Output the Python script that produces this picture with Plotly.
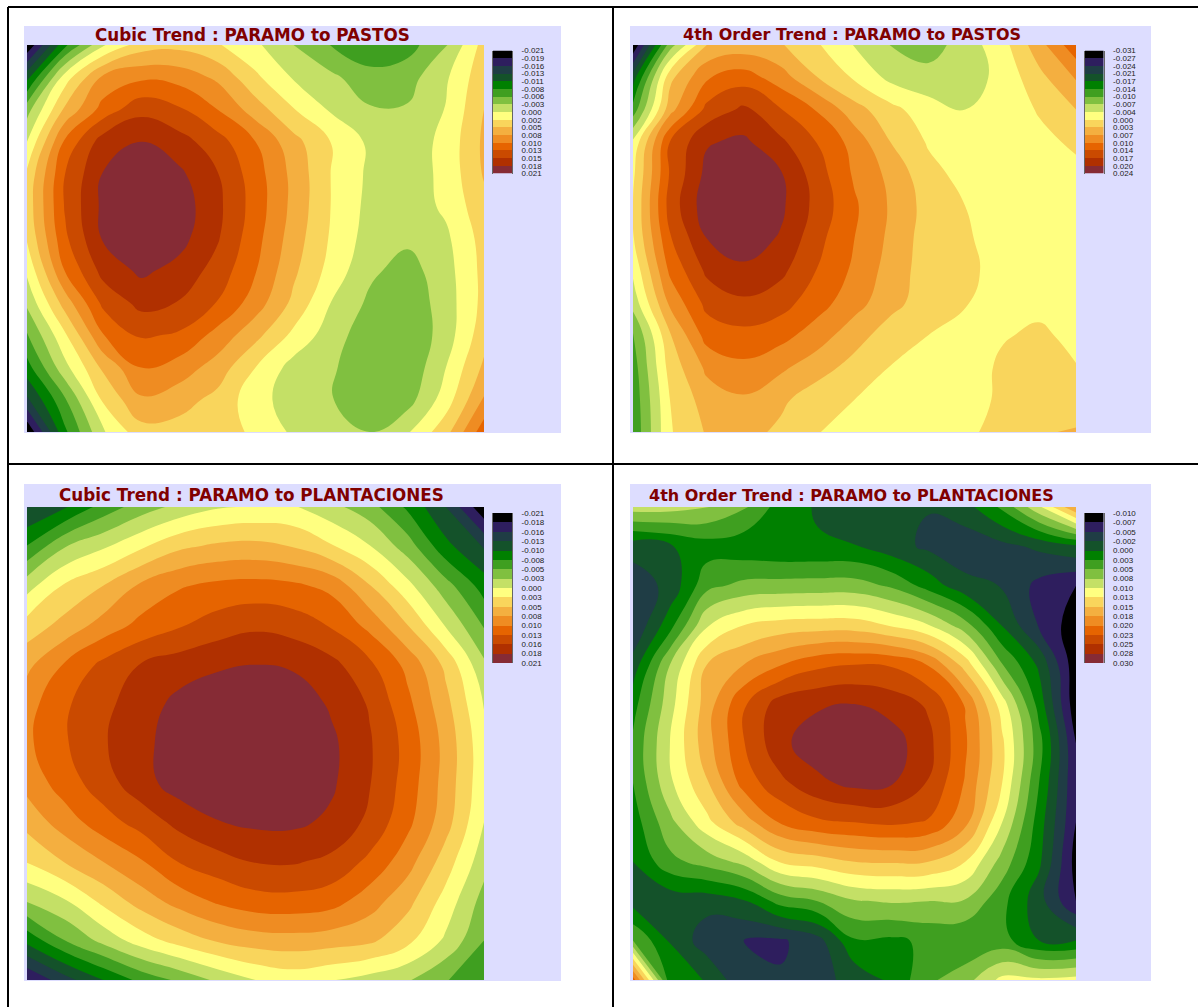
import plotly.graph_objects as go

W, H = 1198, 1007

band_colors = ["#000000", "#2E1E5E", "#1F3D45", "#14522A", "#008000", "#3F9F20", "#80C040", "#C4E066",
               "#FFFF80", "#F9D55C", "#F4AF40", "#EF8C22", "#E66400", "#CA4A00", "#B03000", "#862B35"]

titles = ["Cubic Trend : PARAMO to PASTOS", "4th Order Trend : PARAMO to PASTOS",
          "Cubic Trend : PARAMO to PLANTACIONES", "4th Order Trend : PARAMO to PLANTACIONES"]

labels_a = ["-0.021", "-0.019", "-0.016", "-0.013", "-0.011", "-0.008", "-0.006", "-0.003", "0.000",
            "0.002", "0.005", "0.008", "0.010", "0.013", "0.015", "0.018", "0.021"]
labels_b = ["-0.031", "-0.027", "-0.024", "-0.021", "-0.017", "-0.014", "-0.010", "-0.007", "-0.004",
            "0.000", "0.003", "0.007", "0.010", "0.014", "0.017", "0.020", "0.024"]
labels_c = ["-0.021", "-0.018", "-0.016", "-0.013", "-0.010", "-0.008", "-0.005", "-0.003", "0.000",
            "0.003", "0.005", "0.008", "0.010", "0.013", "0.016", "0.018", "0.021"]
labels_d = ["-0.010", "-0.007", "-0.005", "-0.002", "0.000", "0.003", "0.005", "0.008", "0.010",
            "0.013", "0.015", "0.018", "0.020", "0.023", "0.025", "0.028", "0.030"]

# Values, in legend-class position (0 = top of legend, 16 = bottom)
cubic_pastos = [
    [0.1, 4.8, 7.9, 9.5, 9.7, 9.1, 8.2, 7.0, 5.95, 5.2, 5.6, 6.9, 9.4],
    [3.7, 8.5, 11.2, 11.8, 11.6, 10.8, 9.2, 7.9, 7.2, 6.4, 6.6, 7.85, 9.7],
    [6.6, 10.2, 12.4, 13.7, 13.15, 12.0, 10.5, 9.05, 7.85, 7.1, 7.1, 8.05, 10.0],
    [8.0, 12.2, 14.5, 15.0, 14.4, 13.45, 12.0, 10.35, 8.95, 7.8, 7.4, 8.3, 10.2],
    [9.2, 13.0, 15.05, 15.6, 15.2, 14.05, 12.45, 10.7, 8.95, 7.8, 7.4, 8.3, 10.1],
    [9.4, 13.1, 15.25, 15.9, 15.55, 14.25, 12.55, 10.7, 8.95, 7.7, 7.4, 8.2, 9.7],
    [9.1, 12.8, 15.1, 15.7, 15.35, 14.1, 12.35, 10.5, 8.85, 7.55, 7.2, 7.8, 9.4],
    [8.2, 12.05, 14.35, 15.2, 14.65, 13.6, 12.05, 10.2, 8.6, 7.2, 6.6, 7.6, 9.3],
    [7.2, 10.45, 13.25, 14.3, 13.95, 12.95, 11.5, 9.75, 7.95, 6.8, 6.3, 7.5, 9.3],
    [5.9, 8.85, 11.95, 13.15, 12.85, 11.65, 10.3, 8.75, 7.45, 6.4, 6.1, 7.5, 9.6],
    [4.6, 7.7, 10.2, 12.0, 11.55, 10.55, 9.0, 7.6, 7.15, 6.2, 6.2, 8.0, 10.2],
    [2.8, 5.9, 9.15, 10.85, 10.4, 9.7, 8.4, 7.5, 7.05, 6.2, 6.6, 8.5, 11.1],
    [0.1, 4.8, 7.9, 9.6, 9.6, 9.25, 8.9, 7.8, 7.3, 7.0, 7.9, 9.65, 12.6],
]
quartic_pastos = [
    [0.1, 6.5, 10.0, 10.4, 10.1, 9.1, 7.95, 6.95, 6.5, 7.5, 8.6, 10.6, 12.7],
    [3.5, 9.7, 11.9, 12.5, 11.45, 10.0, 8.85, 7.7, 7.4, 7.5, 8.3, 9.7, 11.1],
    [5.4, 10.6, 13.3, 14.2, 13.05, 11.9, 10.4, 9.3, 8.4, 8.0, 8.3, 9.1, 10.0],
    [8.2, 13.0, 14.9, 15.2, 14.2, 12.95, 11.6, 9.95, 8.9, 8.2, 8.4, 8.7, 9.2],
    [8.8, 13.1, 15.3, 15.7, 15.1, 13.45, 11.85, 10.7, 9.3, 8.7, 8.4, 8.6, 8.7],
    [9.0, 13.4, 15.6, 16.0, 15.2, 13.65, 12.15, 10.85, 9.6, 9.0, 8.4, 8.5, 8.5],
    [8.9, 12.9, 15.0, 15.5, 14.9, 13.3, 12.0, 10.75, 9.5, 9.15, 8.5, 8.4, 8.3],
    [8.2, 12.2, 14.2, 14.8, 14.25, 12.95, 11.8, 10.55, 9.5, 9.2, 8.7, 8.5, 8.2],
    [7.4, 11.2, 13.3, 13.8, 13.4, 12.4, 11.4, 10.3, 9.5, 9.05, 8.7, 8.7, 8.3],
    [5.9, 9.9, 12.4, 12.7, 12.35, 11.5, 10.4, 9.5, 9.0, 8.6, 8.9, 9.2, 8.7],
    [5.5, 9.4, 11.2, 11.75, 11.2, 10.4, 9.65, 8.95, 8.5, 8.4, 9.2, 9.7, 9.05],
    [5.3, 9.0, 10.5, 10.85, 10.2, 9.45, 9.0, 8.55, 8.3, 8.4, 9.25, 9.7, 9.4],
    [5.2, 8.9, 10.1, 10.35, 9.8, 9.05, 8.5, 8.2, 8.1, 8.7, 9.5, 9.9, 10.1],
]
cubic_plantaciones = [
    [2.9, 3.9, 5.4, 6.5, 7.3, 7.9, 8.1, 8.1, 7.3, 6.4, 4.8, 3.0, 0.2],
    [5.05, 6.95, 7.85, 8.85, 9.8, 10.2, 10.3, 9.95, 9.1, 8.05, 6.5, 4.3, 2.9],
    [7.6, 9.15, 10.0, 11.2, 11.9, 12.25, 12.35, 12.2, 11.7, 10.05, 8.3, 6.4, 4.55],
    [9.4, 10.35, 11.4, 12.3, 12.9, 13.45, 13.8, 13.55, 12.9, 11.7, 10.0, 7.9, 5.9],
    [10.75, 12.1, 13.25, 14.05, 14.5, 14.85, 15.0, 14.85, 14.3, 13.2, 11.7, 9.75, 7.2],
    [11.6, 12.85, 13.75, 14.5, 15.3, 15.65, 15.75, 15.65, 14.85, 13.9, 12.25, 10.3, 7.95],
    [11.8, 12.9, 13.9, 14.7, 15.55, 15.9, 16.0, 15.85, 15.2, 14.1, 12.65, 10.65, 8.3],
    [11.35, 12.5, 13.55, 14.6, 15.5, 15.85, 16.0, 15.85, 15.15, 14.05, 12.55, 10.6, 8.3],
    [10.35, 11.5, 12.55, 13.4, 14.3, 14.95, 15.2, 15.2, 14.8, 13.75, 12.25, 10.4, 8.0],
    [9.05, 10.05, 11.0, 11.9, 13.05, 13.6, 14.05, 14.1, 13.75, 12.75, 11.4, 9.5, 7.4],
    [7.05, 7.9, 9.25, 10.45, 11.4, 12.15, 12.6, 12.65, 12.4, 11.45, 10.3, 8.6, 6.6],
    [4.3, 6.0, 7.3, 8.5, 9.4, 10.1, 10.5, 10.6, 10.45, 10.2, 9.25, 7.8, 6.0],
    [1.0, 2.6, 4.0, 5.3, 6.2, 7.2, 8.0, 8.4, 8.05, 7.6, 7.1, 6.05, 5.4],
]
quartic_plantaciones = [
    [7.5, 7.4, 7.05, 6.2, 4.5, 3.9, 3.4, 3.1, 3.05, 3.6, 5.2, 7.8, 11.0],
    [3.4, 3.9, 4.5, 4.3, 4.1, 4.1, 4.05, 3.4, 2.8, 2.4, 2.7, 3.2, 3.8],
    [2.4, 3.3, 5.7, 6.3, 6.4, 6.45, 6.45, 5.85, 4.6, 3.3, 2.95, 1.7, 1.0],
    [2.1, 4.6, 7.9, 9.0, 9.4, 9.5, 9.5, 8.9, 8.05, 6.4, 3.95, 1.9, 0.4],
    [3.4, 7.0, 10.0, 11.0, 11.95, 12.75, 13.0, 12.9, 11.95, 9.6, 6.05, 3.8, 0.3],
    [4.6, 7.6, 10.5, 12.85, 14.5, 14.85, 15.0, 14.6, 13.85, 11.9, 8.5, 4.6, 0.3],
    [5.2, 8.0, 10.6, 12.95, 14.75, 15.6, 15.9, 15.5, 14.3, 12.15, 9.2, 5.4, 1.0],
    [5.0, 7.8, 9.9, 12.4, 13.75, 14.75, 15.3, 15.1, 13.95, 11.9, 9.0, 5.0, 1.1],
    [4.5, 6.7, 8.7, 10.5, 12.1, 12.8, 13.0, 13.2, 12.9, 11.3, 8.0, 4.5, 1.0],
    [4.0, 5.7, 6.4, 7.3, 9.1, 9.5, 10.0, 10.1, 10.0, 9.0, 6.6, 4.2, 0.6],
    [3.6, 3.3, 3.4, 3.9, 5.4, 6.0, 6.9, 7.1, 7.0, 6.9, 5.3, 3.4, 1.0],
    [6.0, 3.95, 2.4, 2.0, 1.85, 2.6, 4.9, 4.8, 5.2, 5.1, 5.4, 4.0, 4.0],
    [12.5, 4.4, 3.95, 2.2, 2.1, 2.7, 3.3, 4.2, 5.8, 6.6, 8.3, 8.2, 8.4],
]

maps = [cubic_pastos, quartic_pastos, cubic_plantaciones, quartic_plantaciones]
legend_labels = [labels_a, labels_b, labels_c, labels_d]

# panel box, map box, legend swatch box, title centre  (x0, y0, x1, y1 in page pixels)
panel_boxes = [(24, 26, 561, 433), (630, 26, 1151, 433), (24, 484, 561, 981), (630, 484, 1151, 981)]
map_boxes = [(27, 45, 484, 432), (633, 45, 1076, 432), (27, 507, 484, 980), (633, 507, 1076, 980)]
legend_boxes = [(493, 50.5, 512, 173.5), (1085, 50.5, 1103.5, 173.5), (493, 513, 512, 663), (1085, 513, 1103.5, 663)]
title_pos = [(252, 35), (851.5, 35), (251.5, 495), (851, 495)]
TITLE_SIZE = [16.8, 16, 16.8, 16]

colorscale = []
for i, c in enumerate(band_colors):
    colorscale += [[i / 16, c], [(i + 1) / 16, c]]


def fx(px):
    return px / W


def fy(py):
    return 1 - py / H


fig = go.Figure()
shapes, annotations = [], []
axes = {}

for b in panel_boxes:
    shapes.append(dict(type="rect", xref="paper", yref="paper", x0=fx(b[0]), x1=fx(b[2]), y0=fy(b[3]), y1=fy(b[1]),
                       fillcolor="#DDDDFF", line_width=0, layer="below"))

for x0, y0, x1, y1 in [(8, 7, 1198, 7), (8, 7, 8, 1007), (613, 7, 613, 1007), (8, 464, 1198, 464)]:
    shapes.append(dict(type="line", xref="paper", yref="paper", x0=fx(x0), x1=fx(x1), y0=fy(y0), y1=fy(y1),
                       line=dict(color="black", width=2)))

for i in range(4):
    k = 2 * i + 1
    m = map_boxes[i]
    fig.add_trace(go.Contour(
        z=maps[i], x=list(range(13)), y=list(range(13)),
        xaxis=f"x{k}", yaxis=f"y{k}",
        colorscale=colorscale, zmin=0, zmax=16, showscale=False,
        autocontour=False,
        contours=dict(start=0, end=16, size=1, coloring="fill", showlines=False),
        line=dict(width=0, smoothing=1.3),
        hoverinfo="skip",
    ))
    axes[f"xaxis{k}"] = dict(domain=[fx(m[0]), fx(m[2])], range=[0, 12], visible=False, anchor=f"y{k}")
    axes[f"yaxis{k}"] = dict(domain=[fy(m[3]), fy(m[1])], range=[12, 0], visible=False, anchor=f"x{k}")

    k2 = k + 1
    lb = legend_boxes[i]
    fig.add_trace(go.Heatmap(
        z=[[j] for j in range(16)], x=[0], y=list(range(16)),
        xaxis=f"x{k2}", yaxis=f"y{k2}",
        colorscale=colorscale, zmin=-0.5, zmax=15.5, showscale=False, hoverinfo="skip",
        xgap=0, ygap=0,
    ))
    axes[f"xaxis{k2}"] = dict(domain=[fx(lb[0]), fx(lb[2])], range=[-0.5, 0.5], visible=False, anchor=f"y{k2}")
    axes[f"yaxis{k2}"] = dict(
        domain=[fy(lb[3]), fy(lb[1])], range=[15.5, -0.5], anchor=f"x{k2}", side="right",
        tickmode="array", tickvals=[j - 0.5 for j in range(17)], ticktext=legend_labels[i],
        ticks="outside", ticklen=7, tickcolor="rgba(0,0,0,0)", showgrid=False, zeroline=False,
        showline=True, linecolor="#666666", linewidth=1, mirror=True,
        tickfont=dict(family="Liberation Sans", size=8, color="#222222"),
    )

    annotations.append(dict(
        text=f"<b>{titles[i]}</b>", xref="paper", yref="paper", x=fx(title_pos[i][0]), y=fy(title_pos[i][1]),
        xanchor="center", yanchor="middle", showarrow=False,
        font=dict(family="DejaVu Sans", size=TITLE_SIZE[i], color="#800000"),
    ))

fig.update_layout(
    width=W, height=H, margin=dict(l=0, r=0, t=0, b=0, pad=0, autoexpand=False), autosize=False,
    paper_bgcolor="white", plot_bgcolor="rgba(0,0,0,0)", showlegend=False,
    shapes=shapes, annotations=annotations, **axes,
)
fig.write_html("out.html", config={"displayModeBar": False},
               post_script="document.body.style.margin='0';document.documentElement.style.overflow='hidden';")
